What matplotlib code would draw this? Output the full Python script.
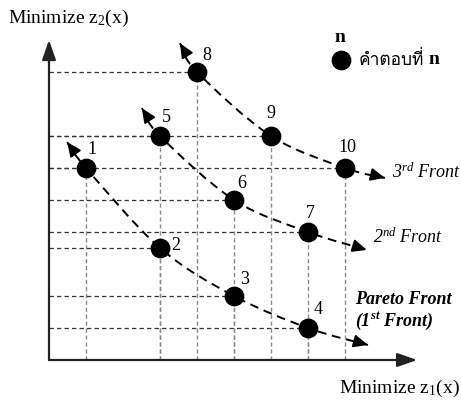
import matplotlib
matplotlib.use('Agg')
import matplotlib.pyplot as plt
from matplotlib import font_manager
from matplotlib.ft2font import FT2Font
from matplotlib.path import Path
from matplotlib.patches import PathPatch
import numpy as np

# points (z1, z2) for each solution number
point_ids = [1, 2, 3, 4, 5, 6, 7, 8, 9, 10]
z1 = [1, 3, 5, 7, 3, 5, 7, 4, 6, 8]
z2 = [6, 3.5, 2, 1, 7, 5, 4, 9, 7, 6]

# fronts: solution ids and where the arrow tips end
fronts = [[1, 2, 3, 4], [5, 6, 7], [8, 9, 10]]
front_start = [(0.49, 6.81), (2.51, 7.87), (3.54, 9.9)]
front_end = [(8.62, 0.47), (8.59, 3.44), (9.08, 5.69)]

# label offsets (pixels) for numbers next to points
label_off = {1: (6, 19), 2: (16, 3), 3: (11, 16), 4: (10, 19), 5: (6, 19),
             6: (8, 17), 7: (2, 19), 8: (10, 17), 9: (0, 23), 10: (2, 20)}


def find_thai_font():
    for f in font_manager.fontManager.ttflist:
        try:
            if 0x0E01 in FT2Font(f.fname).get_charmap():
                return f.name
        except Exception:
            pass
    return 'DejaVu Sans'


thai = find_thai_font()
plt.rcParams['font.family'] = ['Liberation Serif', thai]
plt.rcParams['mathtext.fontset'] = 'custom'
plt.rcParams['mathtext.rm'] = 'Liberation Serif'
plt.rcParams['mathtext.it'] = 'Liberation Serif:italic'
plt.rcParams['mathtext.bf'] = 'Liberation Serif:bold'
plt.rcParams['mathtext.bfit'] = 'Liberation Serif:bold:italic'

fig = plt.figure(figsize=(4.61, 4.0), dpi=100)
ax = fig.add_axes([0, 0, 1, 1])
# 1 unit = 37 px in x, 32 px in y; origin at pixel (49, 360)
ax.set_xlim(-49 / 37, 412 / 37)
ax.set_ylim(-40 / 32, 360 / 32)
ax.axis('off')

# guide lines from each point to the axes
for x, y in zip(z1, z2):
    ax.plot([0, x], [y, y], color='#333333', lw=0.9, ls=(0, (3.5, 2.5)), zorder=1)
    ax.plot([x, x], [0, y], color='#8a8a8a', lw=1.0, ls=(0, (3, 2)), zorder=1)

# axes with arrows
ax.annotate('', xy=(0, 10), xytext=(0, 0),
            arrowprops=dict(arrowstyle='-|>,head_length=1.2,head_width=0.42', color='#222222', lw=1.6,
                            shrinkA=0, shrinkB=0))
ax.annotate('', xy=(9.95, 0), xytext=(0, 0),
            arrowprops=dict(arrowstyle='-|>,head_length=1.2,head_width=0.42', color='#222222', lw=1.6,
                            shrinkA=0, shrinkB=0))


def smooth_path(pts):
    pts = np.asarray(pts, dtype=float)
    ext = np.vstack([pts[0], pts, pts[-1]])
    verts = [pts[0]]
    codes = [Path.MOVETO]
    for i in range(1, len(ext) - 2):
        p0, p1, p2, p3 = ext[i - 1], ext[i], ext[i + 1], ext[i + 2]
        verts += [p1 + (p2 - p0) / 6, p2 - (p3 - p1) / 6, p2]
        codes += [Path.CURVE4] * 3
    return Path(verts, codes)


for ids, s, e in zip(fronts, front_start, front_end):
    pts = [s] + [(z1[i - 1], z2[i - 1]) for i in ids] + [e]
    ax.add_patch(PathPatch(smooth_path(pts), fill=False, lw=1.4, ls=(0, (4.5, 3)),
                           color='black', zorder=2))
    # arrow heads at both ends
    for tip, nb in [(s, pts[1]), (e, pts[-2])]:
        d = np.array(tip) - np.array(nb)
        d = d / np.hypot(d[0] * 37, d[1] * 32)
        back = np.array(tip) - d * 11
        ax.annotate('', xy=tip, xytext=back,
                    arrowprops=dict(arrowstyle='-|>,head_length=0.85,head_width=0.38',
                                    color='black', lw=1.4, shrinkA=0, shrinkB=0), zorder=3)

ax.scatter(z1, z2, s=175, color='black', zorder=4)
for n, x, y in zip(point_ids, z1, z2):
    ax.annotate(str(n), (x, y), xytext=(label_off[n][0], label_off[n][1]),
                textcoords='offset pixels', ha='center', va='center', fontsize=13)

# axis titles
fig.text(8 / 461, 1 - 18 / 400, r'Minimize $\mathrm{z_2}$(x)', fontsize=14, ha='left', va='center')
fig.text(460 / 461, 1 - 388 / 400, r'Minimize $\mathrm{z_1}$(x)', fontsize=14, ha='right', va='center')

# front labels
fig.text(392 / 461, 1 - 172 / 400, r'3$^{rd}$ Front', fontsize=13, style='italic', va='center')
fig.text(373 / 461, 1 - 237 / 400, r'2$^{nd}$ Front', fontsize=13, style='italic', va='center')
fig.text(355 / 461, 1 - 300 / 400, 'Pareto Front', fontsize=13, style='italic', weight='bold', va='center')
fig.text(355 / 461, 1 - 321 / 400, r'(1$^{\mathbfit{st}}$ Front)', fontsize=13, style='italic',
         weight='bold', va='center')

# legend
fig.text(340 / 461, 1 - 37 / 400, 'n', fontsize=14, weight='bold', ha='center', va='center')
ax.scatter([(341 - 49) / 37], [(360 - 60) / 32], s=175, color='black', clip_on=False)
thai_txt = fig.text(359 / 461, 1 - 60 / 400, 'คำตอบที่', fontsize=12.5, va='center')
ax.annotate('n', xy=(1, 0.5), xycoords=thai_txt, xytext=(4, 0), textcoords='offset pixels',
            fontsize=14, weight='bold', ha='left', va='center')

fig.savefig('out.png', dpi=100)
